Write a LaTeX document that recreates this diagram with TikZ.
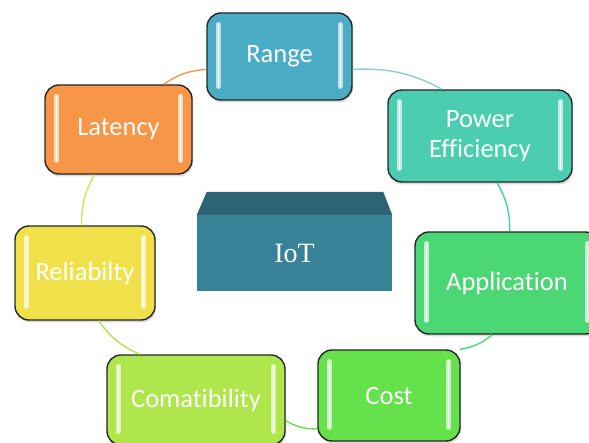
\documentclass[tikz,border=0pt]{standalone}
\usepackage{fontspec}
\setmainfont{Carlito}[Ligatures={NoCommon}]
\newfontfamily\serifface{Liberation Serif}
\usetikzlibrary{shadows}

\definecolor{cRange}{RGB}{75,172,198}
\definecolor{cPower}{RGB}{75,205,175}
\definecolor{cApp}{RGB}{75,215,115}
\definecolor{cCost}{RGB}{100,225,75}
\definecolor{cComat}{RGB}{175,230,75}
\definecolor{cRel}{RGB}{240,225,75}
\definecolor{cLat}{RGB}{247,150,70}
\definecolor{cBoxFront}{RGB}{55,130,150}
\definecolor{cBoxTop}{RGB}{45,100,115}
\definecolor{cLinkRange}{RGB}{140,205,222}
\definecolor{cLinkRel}{RGB}{225,220,90}

% glossy vertical highlights near the left and right edges of a card
\newcommand\glossbars[2]{%
  \foreach \side/\dx in {west/12pt, east/-12pt}{%
    \draw[line width=4.5pt, line cap=round, #2!35!white]
      ([xshift=\dx, yshift=-12pt]#1.north \side) -- ([xshift=\dx, yshift=14pt]#1.south \side);
    \draw[line width=1.3pt, line cap=round, white]
      ([xshift=\dx, yshift=-12pt]#1.north \side) -- ([xshift=\dx, yshift=14pt]#1.south \side);
  }%
}

\begin{document}
\begin{tikzpicture}[x=1pt, y=-1pt,
  card/.style={draw=black!85, line width=1.4pt, rounded corners=14pt,
    text=white, inner sep=0pt, align=center,
    font=\fontsize{26.5}{30}\selectfont,
    drop shadow={shadow xshift=1pt, shadow yshift=-2.5pt, opacity=0.3}},
  link/.style={line width=1.4pt, bend left=15},
]
\useasboundingbox (0,0) rectangle (589,443);

% the seven property cards
\node[card, fill=cRange, minimum width=145pt, minimum height=87pt] (range) at (279.5,56.5) {Range};
\node[card, fill=cPower, minimum width=184pt, minimum height=92pt] (pow) at (480,136) {Power\\Efficiency};
\node[card, fill=cApp, minimum width=184pt, minimum height=102pt] (app) at (507,283) {Application};
\node[card, fill=cCost, minimum width=142pt, minimum height=91pt] (cost) at (389,395.5) {Cost};
\node[card, fill=cComat, minimum width=178pt, minimum height=90pt] (comat) at (196,400) {Comatibility};
\node[card, fill=cRel, minimum width=140pt, minimum height=94pt] (rel) at (85,273) {Reliabilty};
\node[card, fill=cLat, minimum width=147pt, minimum height=89pt] (lat) at (118.5,129.5) {Latency};

\glossbars{range}{cRange}
\glossbars{pow}{cPower}
\glossbars{app}{cApp}
\glossbars{cost}{cCost}
\glossbars{comat}{cComat}
\glossbars{rel}{cRel}
\glossbars{lat}{cLat}

% ring of connectors
\draw[link, cLat] (lat.45) to (range.190);
\draw[link, cLinkRange] (range.-10) to (pow.129);
\draw[link, cPower] (pow.-70) to (app.87);
\draw[link, cApp] (app.-106) to (cost.33);
\draw[link, cCost] (cost.205) to (comat.-13);
\draw[link, cComat] (comat.141) to (rel.-74);
\draw[link, cLinkRel] (rel.94) to (lat.-118);

% central block
\node[fill=cBoxFront, minimum width=195pt, minimum height=76pt, inner sep=0pt,
  text=white, font=\serifface\fontsize{28}{30}\selectfont] (iot) at (294.5,253) {IoT};
\fill[cBoxTop] (iot.north west) -- ([xshift=10pt, yshift=23pt]iot.north west)
  -- ([xshift=-9pt, yshift=23pt]iot.north east) -- (iot.north east) -- cycle;
\end{tikzpicture}
\end{document}
